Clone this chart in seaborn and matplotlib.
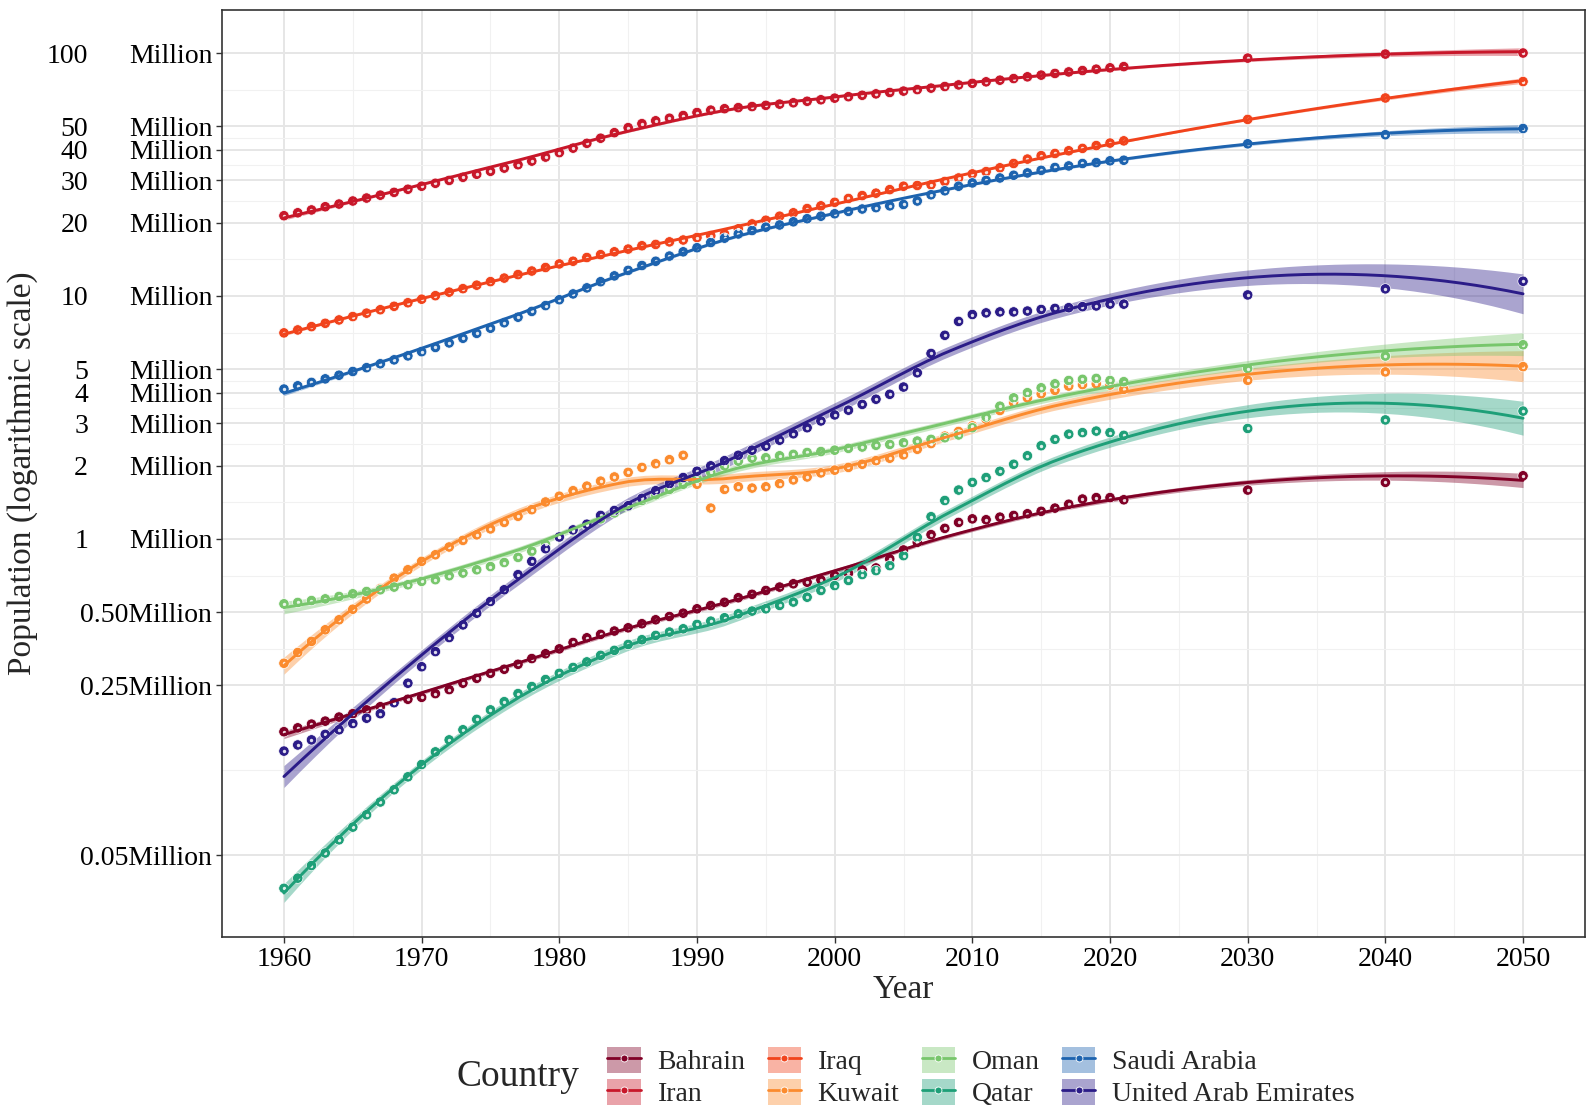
import numpy as np
import pandas as pd
import seaborn as sns
import matplotlib.pyplot as plt
from matplotlib.patches import Patch
from matplotlib.lines import Line2D
from matplotlib.ticker import FixedLocator, NullFormatter
from matplotlib.transforms import blended_transform_factory

# years: annual 1960-2021 plus three projection years
years = list(range(1960, 2022)) + [2030, 2040, 2050]

# population in millions
bahrain = [0.161, 0.167, 0.173, 0.178, 0.185, 0.191, 0.198, 0.204, 0.212, 0.219,
           0.223, 0.231, 0.240, 0.255, 0.267, 0.280, 0.291, 0.305, 0.322, 0.337,
           0.353, 0.375, 0.392, 0.405, 0.418, 0.431, 0.448, 0.465, 0.480, 0.495,
           0.516, 0.532, 0.549, 0.573, 0.592, 0.614, 0.634, 0.654, 0.664, 0.679,
           0.708, 0.723, 0.746, 0.760, 0.828, 0.901, 0.969, 1.042, 1.106, 1.170,
           1.210, 1.200, 1.230, 1.250, 1.270, 1.300, 1.340, 1.390, 1.460, 1.480,
           1.480, 1.450,
           1.59, 1.71, 1.82]
iran = [21.4, 22.0, 22.6, 23.3, 23.9, 24.6, 25.3, 26.0, 26.7, 27.5,
        28.3, 29.1, 29.9, 30.8, 31.7, 32.6, 33.6, 34.7, 35.9, 37.3,
        38.9, 40.6, 42.5, 44.6, 47.0, 49.3, 51.2, 52.6, 53.9, 55.3,
        56.9, 58.2, 59.0, 59.6, 60.2, 60.9, 61.6, 62.4, 63.3, 64.2,
        65.2, 66.1, 67.0, 67.9, 68.8, 69.7, 70.7, 71.7, 72.8, 73.9,
        75.0, 76.1, 77.3, 78.5, 79.8, 81.1, 82.4, 83.6, 84.7, 85.8,
        86.9, 87.9,
        95.3, 99.0, 100.0]
iraq = [7.05, 7.25, 7.48, 7.72, 7.97, 8.23, 8.50, 8.78, 9.07, 9.38,
        9.70, 10.03, 10.37, 10.72, 11.08, 11.46, 11.85, 12.25, 12.67, 13.10,
        13.55, 13.90, 14.40, 14.80, 15.20, 15.60, 16.10, 16.30, 16.70, 17.00,
        17.40, 17.70, 18.00, 18.90, 19.80, 20.50, 21.30, 22.00, 22.90, 23.50,
        24.30, 25.20, 25.90, 26.50, 27.40, 28.30, 28.50, 28.70, 29.60, 30.60,
        31.80, 32.50, 33.70, 35.10, 36.60, 37.80, 38.60, 39.60, 40.50, 41.60,
        42.60, 43.50,
        53.3, 65.3, 76.3]
kuwait = [0.308, 0.341, 0.379, 0.423, 0.465, 0.514, 0.566, 0.625, 0.690, 0.747,
          0.809, 0.861, 0.927, 0.987, 1.040, 1.100, 1.170, 1.240, 1.320, 1.420,
          1.500, 1.580, 1.650, 1.730, 1.800, 1.880, 1.970, 2.040, 2.120, 2.210,
          1.680, 1.340, 1.600, 1.640, 1.620, 1.640, 1.690, 1.750, 1.800, 1.870,
          1.920, 1.970, 2.030, 2.100, 2.150, 2.220, 2.340, 2.470, 2.650, 2.770,
          2.920, 3.110, 3.380, 3.640, 3.810, 3.960, 4.090, 4.260, 4.320, 4.350,
          4.300, 4.130,
          4.50, 4.87, 5.12]
oman = [0.541, 0.548, 0.558, 0.567, 0.580, 0.595, 0.608, 0.618, 0.634, 0.648,
        0.669, 0.680, 0.706, 0.724, 0.747, 0.770, 0.800, 0.840, 0.890, 0.950,
        1.020, 1.080, 1.140, 1.210, 1.280, 1.360, 1.440, 1.520, 1.600, 1.680,
        1.780, 1.880, 2.000, 2.090, 2.150, 2.160, 2.200, 2.230, 2.270, 2.290,
        2.320, 2.360, 2.390, 2.430, 2.450, 2.490, 2.530, 2.570, 2.610, 2.680,
        2.870, 3.180, 3.520, 3.810, 4.000, 4.190, 4.350, 4.490, 4.540, 4.580,
        4.490, 4.440,
        5.03, 5.66, 6.30]
qatar = [0.0365, 0.0402, 0.0453, 0.0510, 0.0578, 0.0652, 0.0733, 0.0827, 0.0929, 0.105,
         0.118, 0.133, 0.149, 0.164, 0.181, 0.198, 0.214, 0.231, 0.247, 0.264,
         0.280, 0.296, 0.312, 0.332, 0.348, 0.368, 0.385, 0.401, 0.414, 0.427,
         0.445, 0.459, 0.474, 0.492, 0.505, 0.516, 0.533, 0.550, 0.576, 0.614,
         0.643, 0.675, 0.714, 0.741, 0.777, 0.854, 1.016, 1.235, 1.440, 1.590,
         1.710, 1.790, 1.900, 2.030, 2.200, 2.420, 2.570, 2.700, 2.740, 2.780,
         2.740, 2.670,
         2.85, 3.09, 3.36]
saudi = [4.14, 4.27, 4.41, 4.56, 4.72, 4.89, 5.07, 5.26, 5.46, 5.67,
         5.90, 6.14, 6.41, 6.70, 7.02, 7.37, 7.76, 8.18, 8.64, 9.13,
         9.65, 10.20, 10.80, 11.45, 12.10, 12.75, 13.35, 13.90, 14.60, 15.20,
         15.80, 16.60, 17.30, 18.00, 18.60, 19.20, 19.60, 20.20, 20.80, 21.30,
         21.80, 22.30, 22.80, 23.10, 23.50, 23.80, 24.60, 26.10, 27.10, 28.30,
         29.20, 29.90, 30.60, 31.40, 32.10, 32.90, 33.80, 34.30, 35.10, 35.40,
         36.00, 36.20,
         42.3, 46.1, 48.9]
uae = [0.134, 0.142, 0.149, 0.157, 0.164, 0.174, 0.183, 0.191, 0.212, 0.255,
       0.298, 0.344, 0.393, 0.443, 0.495, 0.553, 0.618, 0.713, 0.809, 0.912,
       1.019, 1.090, 1.150, 1.250, 1.310, 1.370, 1.470, 1.580, 1.690, 1.790,
       1.900, 2.000, 2.100, 2.210, 2.320, 2.410, 2.550, 2.710, 2.870, 3.060,
       3.240, 3.390, 3.580, 3.760, 3.940, 4.220, 4.830, 5.800, 6.890, 7.860,
       8.390, 8.520, 8.600, 8.600, 8.670, 8.800, 8.890, 8.950, 9.040, 9.100,
       9.260, 9.260,
       10.1, 10.7, 11.5]

countries = ['Bahrain', 'Iran', 'Iraq', 'Kuwait', 'Oman', 'Qatar',
             'Saudi Arabia', 'United Arab Emirates']
series = [bahrain, iran, iraq, kuwait, oman, qatar, saudi, uae]
colors = ['#800026', '#C8172A', '#F1431C', '#FB8B2E', '#78C66C', '#1E9F78',
          '#1D63AF', '#2B1C88']
palette = dict(zip(countries, colors))

# y axis breaks (millions)
breaks = [0.05, 0.25, 0.5, 1, 2, 3, 4, 5, 10, 20, 30, 40, 50, 100]
break_labels = ['0.05Million', '0.25Million', '0.50Million', 'Million', 'Million',
                'Million', 'Million', 'Million', 'Million', 'Million', 'Million',
                'Million', 'Million', 'Million']
break_numbers = ['', '', '', '1', '2', '3', '4', '5', '10', '20', '30', '40', '50', '100']

df = pd.DataFrame({
    'Year': years * len(countries),
    'Population': np.concatenate(series),
    'Country': np.repeat(countries, len(years)),
})


def loess(x, y, xnew, span=0.75, degree=2):
    # local quadratic fit (tricube weights) evaluated on kd-tree vertices,
    # then cubic Hermite interpolation in between, like R's loess
    n = len(x)
    q = int(np.floor(n * span))

    def local(x0):
        d = np.abs(x - x0)
        h = np.sort(d)[q - 1] * 1.0001
        w = np.clip(1 - (d / h) ** 3, 0, None) ** 3
        u = (x - x0) / h
        B = np.column_stack([u ** k for k in range(degree + 1)])
        BtW = B.T * w
        coef = np.linalg.solve(BtW @ B, BtW)
        return coef[0], coef[1] / h

    xs = np.sort(x)
    mu = 0.005 * (xs[-1] - xs[0])
    verts = [xs[0] - mu, xs[-1] + mu]
    fc = int(np.floor(n * span * 0.2))

    def split(pts):
        if len(pts) <= fc:
            return
        m = (len(pts) + 1) // 2
        verts.append((pts[m - 1] + pts[m]) / 2)
        split(pts[:m])
        split(pts[m:])

    split(xs)
    verts = np.sort(verts)
    vals, slopes = zip(*[local(v) for v in verts])
    vals, slopes = np.array(vals), np.array(slopes)

    def op(xq):
        rows = []
        for x0 in xq:
            k = int(np.clip(np.searchsorted(verts, x0) - 1, 0, len(verts) - 2))
            a, b = verts[k], verts[k + 1]
            D = b - a
            t = (x0 - a) / D
            h00 = 2 * t ** 3 - 3 * t ** 2 + 1
            h10 = t ** 3 - 2 * t ** 2 + t
            h01 = -2 * t ** 3 + 3 * t ** 2
            h11 = t ** 3 - t ** 2
            rows.append(h00 * vals[k] + h10 * D * slopes[k]
                        + h01 * vals[k + 1] + h11 * D * slopes[k + 1])
        return np.array(rows)

    L = op(x)
    res = y - L @ y
    IL = np.eye(n) - L
    sigma = np.sqrt(res @ res / np.trace(IL.T @ IL))
    Ln = op(xnew)
    return Ln @ y, sigma * np.sqrt((Ln ** 2).sum(axis=1))


xgrid = np.linspace(1960, 2050, 80)
smooth = []
for c in countries:
    sub = df[df.Country == c]
    fit, se = loess(sub.Year.values.astype(float), np.log10(sub.Population.values), xgrid)
    smooth.append(pd.DataFrame({'Year': xgrid, 'fit': 10 ** fit,
                                'lo': 10 ** (fit - 2.0 * se), 'hi': 10 ** (fit + 2.0 * se),
                                'Country': c}))
smooth = pd.concat(smooth, ignore_index=True)

sns.set_theme(style="white")
plt.rcParams['font.family'] = ['Liberation Serif', 'DejaVu Serif']

W, H = 1595, 1119
fig = plt.figure(figsize=(W / 100, H / 100), dpi=100)
ax = fig.add_axes([222 / W, 1 - 937 / H, 1363 / W, 927 / H])
ax.set_yscale('log')

for c in countries:
    s = smooth[smooth.Country == c]
    ax.fill_between(s.Year, s.lo, s.hi, color=palette[c], alpha=0.4, lw=0, zorder=2)

sns.scatterplot(data=df, x='Year', y='Population', hue='Country', palette=palette,
                s=56, linewidth=0.5, edgecolor='white', legend=False, ax=ax, zorder=3)
sns.scatterplot(data=df, x='Year', y='Population', color='white', s=6,
                linewidth=0, alpha=0.85, legend=False, ax=ax, zorder=3.5)
sns.lineplot(data=smooth, x='Year', y='fit', hue='Country', palette=palette,
             lw=2.1, legend=False, ax=ax, zorder=4)

ax.set_xlim(1955.5, 2054.5)
ax.set_ylim(10 ** -1.638, 10 ** 2.177)

ax.set_xticks(range(1960, 2051, 10))
ax.xaxis.set_minor_locator(FixedLocator(range(1965, 2051, 10)))
ax.set_yticks(breaks)
ax.set_yticklabels(break_labels)
lb = np.log10(breaks)
ax.yaxis.set_minor_locator(FixedLocator(10 ** ((lb[1:] + lb[:-1]) / 2)))
ax.yaxis.set_minor_formatter(NullFormatter())

ax.grid(which='major', color='#E6E6E6', lw=1.4, zorder=0)
ax.grid(which='minor', color='#F1F1F1', lw=0.8, zorder=0)
ax.set_axisbelow(True)
for sp in ax.spines.values():
    sp.set_color('#333333')
    sp.set_linewidth(1.2)
ax.tick_params(which='major', length=4, width=1, color='#333333', labelsize=20,
               labelcolor='black', pad=3, left=True, bottom=True)
ax.tick_params(which='minor', length=0)
ax.set_xlabel('')
ax.set_ylabel('')

# numbers in front of "Million"
trans = blended_transform_factory(fig.transFigure, ax.transData)
for b, t in zip(breaks, break_numbers):
    if t:
        ax.text(88 / W, b, t, transform=trans, ha='right', va='center_baseline',
                fontsize=20, color='black')

fig.text(23 / W, 1 - 473 / H, 'Population (logarithmic scale)', rotation=90,
         ha='center', va='center', fontsize=24)
fig.text(903 / W, 1 - 990 / H, 'Year', ha='center', va='center', fontsize=24)

handles = [(Patch(facecolor=palette[c], alpha=0.4, edgecolor='none'),
            Line2D([0], [0], color=palette[c], lw=2, marker='o', ms=5,
                   markerfacecolor=palette[c], markeredgecolor='white', markeredgewidth=0.6))
           for c in countries]
fig.legend(handles, countries, loc='center', bbox_to_anchor=(981 / W, 1 - 1077 / H),
           ncol=4, frameon=False, fontsize=20, handlelength=1.2, handleheight=1.1,
           handletextpad=0.6, columnspacing=0.8, labelspacing=0.12)
fig.text(456 / W, 1 - 1077 / H, 'Country', ha='left', va='center', fontsize=27)

fig.savefig('out.png', dpi=100)
